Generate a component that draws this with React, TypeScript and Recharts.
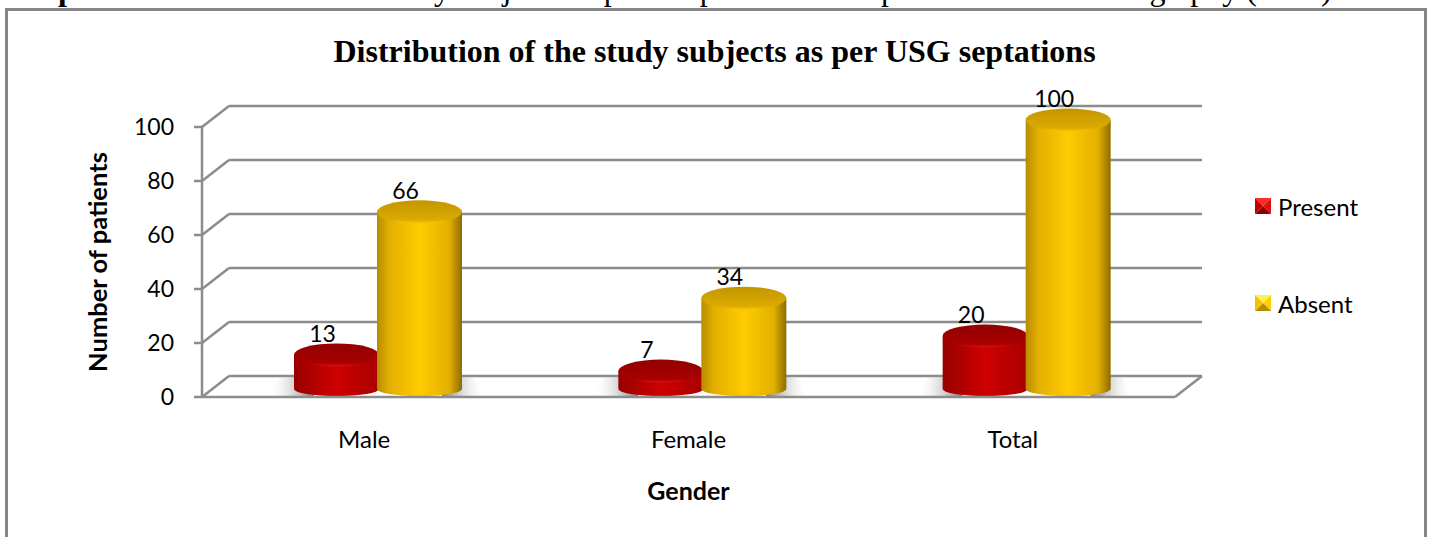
import { Bar, BarChart, CartesianGrid, LabelList, Legend, XAxis, YAxis } from 'recharts';

const categories = ['Male', 'Female', 'Total'];
const presentValues = [13, 7, 20];
const absentValues = [66, 34, 100];
const yTicks = [0, 20, 40, 60, 80, 100];
const seriesNames = ['Present', 'Absent'];

const rows = categories.map((gender, i) => ({
  gender,
  Present: presentValues[i],
  Absent: absentValues[i],
}));

const bodyFont = 'Lato, sans-serif';
const gridColor = '#8c8c8c';

// fake 3D depth of the chart floor
const depthX = 27;
const depthY = 21;

const GridLine = ({ x1, x2, y1 }: any) => (
  <g stroke={gridColor} strokeWidth={2.5} fill="none">
    <line x1={x1} y1={y1} x2={x1 + depthX} y2={y1 - depthY} />
    <line x1={x1 + depthX} y1={y1 - depthY} x2={x2 + depthX} y2={y1 - depthY} />
    {y1 > 390 && <line x1={x2} y1={y1} x2={x2 + depthX} y2={y1 - depthY} />}
  </g>
);

const Cylinder = ({ x, y, width, height, kind }: any) => {
  const cx = x + 14;
  const w = width + 2;
  const left = cx - 1;
  const top = y - 7;
  const base = y + height - 8;
  const rx = w / 2;
  const mid = left + rx;
  const side = `M${left},${top} L${left},${base} A${rx},7 0 0 0 ${left + w},${base} L${left + w},${top} Z`;
  const red = kind === 'red';
  const edge = red ? left + 20 : left + w - 20;
  const tip = red ? left - 26 : left + w + 23;
  const shoulder = red ? tip + 12 : tip - 12;
  return (
    <g>
      <polygon
        points={`${edge},${base - 12} ${edge},${base + 7} ${tip},${base + 7} ${shoulder},${base - 12}`}
        fill={`url(#shadow-${kind})`}
      />
      <path d={side} fill={`url(#side-${kind})`} />
      <ellipse cx={mid} cy={top} rx={rx} ry={11.5} fill={`url(#top-${kind})`} />
    </g>
  );
};

const RedBar = (props: any) => <Cylinder {...props} kind="red" />;
const GoldBar = (props: any) => <Cylinder {...props} kind="gold" />;

const swatchColors: Record<string, string[]> = {
  Present: ['#ff2a2a', '#e01010', '#8c0000', '#c00000'],
  Absent: ['#fff04a', '#ffd000', '#b88a00', '#f2c200'],
};

const LegendBox = () => (
  <div>
    {seriesNames.map((name, i) => {
      const c = swatchColors[name];
      return (
        <div
          key={name}
          style={{
            display: 'flex',
            alignItems: 'center',
            height: 24,
            marginBottom: i === 0 ? 73 : 0,
            fontFamily: bodyFont,
            fontSize: 24,
            color: '#000',
          }}
        >
          <svg width={16} height={16} style={{ marginRight: 7 }}>
            <polygon points="0,0 16,0 8,8" fill={c[0]} />
            <polygon points="16,0 16,16 8,8" fill={c[1]} />
            <polygon points="0,16 16,16 8,8" fill={c[2]} />
            <polygon points="0,0 0,16 8,8" fill={c[3]} />
          </svg>
          {name}
        </div>
      );
    })}
  </div>
);

export default function App() {
  return (
    <div
      style={{
        position: 'absolute',
        left: 0,
        top: 0,
        width: 1429,
        height: 537,
        overflow: 'hidden',
        background: '#fff',
      }}
    >
      <div
        style={{
          position: 'absolute',
          left: 3,
          top: -29,
          width: 1420,
          whiteSpace: 'nowrap',
          fontFamily: '"Liberation Serif", serif',
          fontSize: 32,
          color: '#000',
        }}
      >
        <b>Graph 4:</b> Distribution of the study subjects as per the presence of septations on ultrasonography (USG)
      </div>
      <div
        style={{
          position: 'absolute',
          left: 5,
          top: 8,
          width: 1416,
          height: 560,
          border: '3px solid #868686',
          background: 'transparent',
        }}
      />
      <div
        style={{
          position: 'absolute',
          left: 0,
          top: 33,
          width: 1429,
          textAlign: 'center',
          fontFamily: '"Liberation Serif", serif',
          fontWeight: 700,
          fontSize: 32,
          color: '#000',
        }}
      >
        Distribution of the study subjects as per USG septations
      </div>
      <div style={{ position: 'absolute', left: 0, top: 0 }}>
        <BarChart
          width={1429}
          height={537}
          data={rows}
          margin={{ top: 127, right: 104, bottom: 110, left: 112 }}
          barSize={83}
          barGap={0}
        >
          <defs>
            <linearGradient id="side-red" x1="0" y1="0" x2="1" y2="0">
              <stop offset="0" stopColor="#980000" />
              <stop offset="0.5" stopColor="#cf0000" />
              <stop offset="1" stopColor="#a80000" />
            </linearGradient>
            <linearGradient id="top-red" x1="0" y1="0" x2="0" y2="1">
              <stop offset="0" stopColor="#930000" />
              <stop offset="0.85" stopColor="#a80000" />
              <stop offset="1" stopColor="#d81010" />
            </linearGradient>
            <linearGradient id="side-gold" x1="0" y1="0" x2="1" y2="0">
              <stop offset="0" stopColor="#b88c00" />
              <stop offset="0.15" stopColor="#e3b000" />
              <stop offset="0.5" stopColor="#ffcb00" />
              <stop offset="0.85" stopColor="#e3b000" />
              <stop offset="1" stopColor="#8c6c00" />
            </linearGradient>
            <linearGradient id="top-gold" x1="0" y1="0" x2="0" y2="1">
              <stop offset="0" stopColor="#c39600" />
              <stop offset="0.85" stopColor="#dcaa00" />
              <stop offset="1" stopColor="#f8c800" />
            </linearGradient>
            <linearGradient id="shadow-red" x1="1" y1="0" x2="0" y2="0">
              <stop offset="0" stopColor="#7c7c7c" />
              <stop offset="1" stopColor="#ffffff" stopOpacity={0} />
            </linearGradient>
            <linearGradient id="shadow-gold" x1="0" y1="0" x2="1" y2="0">
              <stop offset="0" stopColor="#7c7c7c" />
              <stop offset="1" stopColor="#ffffff" stopOpacity={0} />
            </linearGradient>
          </defs>
          <CartesianGrid vertical={false} horizontal={(p: any) => <GridLine key={p.key ?? p.y1} {...p} />} />
          <XAxis
            dataKey="gender"
            axisLine={{ stroke: gridColor, strokeWidth: 2.5 }}
            tickLine={false}
            tick={{ fill: '#000', fontSize: 24, fontFamily: bodyFont }}
            tickMargin={28}
            label={{
              value: 'Gender',
              position: 'insideBottom',
              offset: -73,
              fill: '#000',
              fontSize: 25,
              fontWeight: 700,
              fontFamily: bodyFont,
            }}
          />
          <YAxis
            domain={[0, 100]}
            ticks={yTicks}
            width={90}
            axisLine={{ stroke: gridColor, strokeWidth: 2.5 }}
            tickLine={{ stroke: gridColor, strokeWidth: 2.5 }}
            tickSize={8}
            tickMargin={20}
            tick={{ fill: '#000', fontSize: 23, fontFamily: bodyFont }}
            label={{
              value: 'Number of patients',
              angle: -90,
              position: 'insideLeft',
              offset: -14,
              fill: '#000',
              fontSize: 25.5,
              fontWeight: 700,
              fontFamily: bodyFont,
              style: { textAnchor: 'middle' },
            }}
          />
          <Legend
            layout="vertical"
            align="right"
            verticalAlign="top"
            content={<LegendBox />}
            wrapperStyle={{ left: 1255, top: 194, width: 150 }}
          />
          <Bar dataKey="Present" shape={<RedBar />} isAnimationActive={false}>
            <LabelList dataKey="Present" position="top" offset={20} fill="#000" fontSize={23} fontFamily={bodyFont} />
          </Bar>
          <Bar dataKey="Absent" shape={<GoldBar />} isAnimationActive={false}>
            <LabelList dataKey="Absent" position="top" offset={20} fill="#000" fontSize={23} fontFamily={bodyFont} />
          </Bar>
        </BarChart>
      </div>
    </div>
  );
}
